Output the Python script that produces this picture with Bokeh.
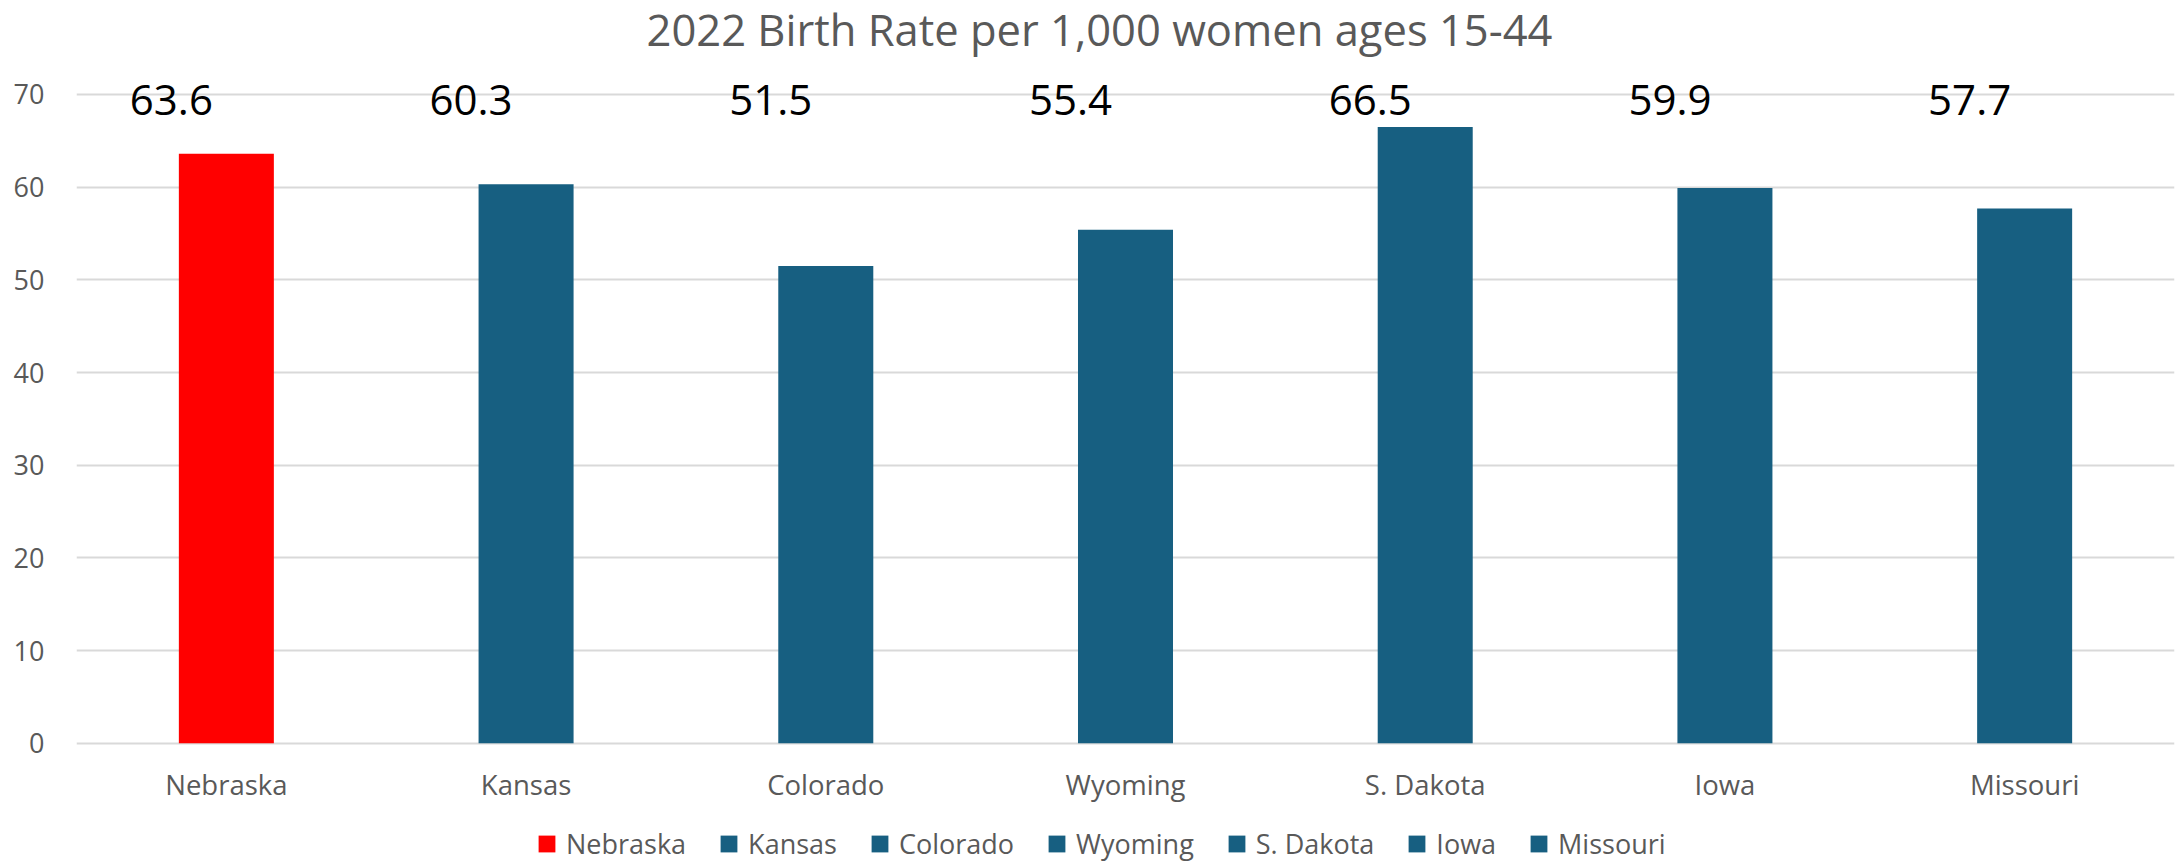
from bokeh.plotting import figure
from bokeh.models import (ColumnDataSource, FactorRange, Range1d, FixedTicker,
                          Legend, LegendItem, Label)
from bokeh.core.properties import value
from bokeh.embed import file_html
from bokeh.resources import INLINE

# ---- data ----
states = ["Nebraska", "Kansas", "Colorado", "Wyoming", "S. Dakota", "Iowa", "Missouri"]
rates = [63.6, 60.3, 51.5, 55.4, 66.5, 59.9, 57.7]
bar_colors = ["#FF0000", "#175F81", "#175F81", "#175F81", "#175F81", "#175F81", "#175F81"]
y_ticks = [0, 10, 20, 30, 40, 50, 60, 70]
title_text = "2022 Birth Rate per 1,000 women ages 15-44"

FONT = "Open Sans"
GREY = "#595959"
GRID = "#D9D9D9"
LABEL_Y = 69.35      # data labels are placed in a row near the top
TITLE_Y = 77.0

src = ColumnDataSource(dict(
    state=states,
    rate=rates,
    color=bar_colors,
    label=[f"{r:.1f}" for r in rates],
    label_y=[LABEL_Y] * len(states),
    base=[0] * len(states),
))

p = figure(width=2176, height=863,
           x_range=FactorRange(factors=states, range_padding=0),
           y_range=Range1d(-12.98, 80.14),
           output_backend="svg", toolbar_location=None,
           min_border_left=76, min_border_right=2,
           min_border_top=0, min_border_bottom=0)
p.title.text = ""
p.outline_line_color = None
p.background_fill_color = "white"
p.border_fill_color = "white"

# grid
p.xgrid.grid_line_color = None
p.ygrid.ticker = FixedTicker(ticks=y_ticks)
p.ygrid.grid_line_color = GRID
p.ygrid.grid_line_width = 2

# y axis
p.yaxis.ticker = FixedTicker(ticks=y_ticks)
p.yaxis.axis_line_color = None
p.yaxis.major_tick_line_color = None
p.yaxis.minor_tick_line_color = None
p.yaxis.major_tick_out = 0
p.yaxis.major_label_standoff = 32
p.yaxis.major_label_text_font = FONT
p.yaxis.major_label_text_font_size = "27px"
p.yaxis.major_label_text_color = GREY

# x axis: category labels drawn under the zero line
p.xaxis.visible = False
p.text(x="state", y="base", text="state", source=src,
       text_font=value(FONT), text_font_size="27.5px", text_color=GREY,
       text_align="center", text_baseline="alphabetic", y_offset=41)

bars = p.vbar(x="state", top="rate", width=0.317, source=src,
              fill_color="color", line_color=None)

p.text(x="state", y="label_y", text="label", source=src,
       text_font=value(FONT), text_font_size="42px", text_color="black",
       text_align="center", text_baseline="middle", x_offset=-55)

# title (centred slightly left of the plot-area centre, as in the reference)
p.add_layout(Label(x=3.5, y=TITLE_Y, x_offset=-26,
                   text=title_text, text_font=FONT, text_font_size="43.5px",
                   text_color=GREY, text_align="center",
                   text_baseline="alphabetic"))

# legend
items = [LegendItem(label=s, renderers=[bars], index=i) for i, s in enumerate(states)]
legend = Legend(items=items, orientation="horizontal", location=(460, 1),
                glyph_width=21, glyph_height=21, label_standoff=9, spacing=32,
                padding=0, margin=0, border_line_color=None,
                background_fill_alpha=0,
                label_text_font=FONT, label_text_font_size="27px",
                label_text_color=GREY)
p.add_layout(legend)

open("out.html", "w").write(file_html(p, INLINE))
